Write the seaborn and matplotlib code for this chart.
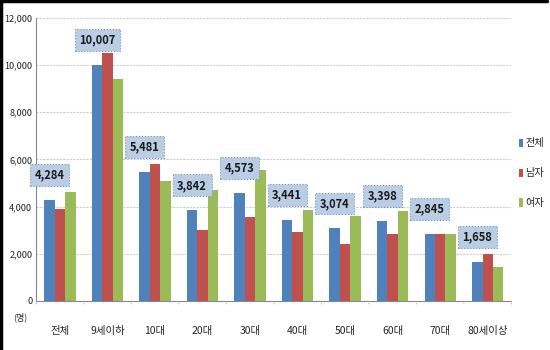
import matplotlib
matplotlib.use("Agg")
import matplotlib.pyplot as plt
import seaborn as sns
import pandas as pd
from matplotlib.lines import Line2D
from matplotlib.patches import Patch

categories = ["전체", "9세이하", "10대", "20대", "30대", "40대", "50대", "60대", "70대", "80세이상"]
series_names = ["전체", "남자", "여자"]
total = [4284, 10007, 5481, 3842, 4573, 3441, 3074, 3398, 2845, 1658]
male = [3910, 10500, 5810, 3000, 3570, 2940, 2400, 2850, 2845, 1990]
female = [4620, 9400, 5090, 4690, 5560, 3870, 3620, 3830, 2830, 1430]
colors = ["#4f81bd", "#c0504d", "#9bbb59"]

rows = []
for name, vals in zip(series_names, [total, male, female]):
    for c, v in zip(categories, vals):
        rows.append({"cat": c, "series": name, "value": v})
df = pd.DataFrame(rows)

sns.set_theme(style="white")
plt.rcParams["font.family"] = ["Noto Sans CJK KR", "DejaVu Sans"]

fig = plt.figure(figsize=(5.5, 3.5), dpi=100)
ax = fig.add_axes([0.066, 0.14, 0.864, 0.809])

sns.barplot(data=df, x="cat", y="value", hue="series", order=categories,
            hue_order=series_names, palette=colors, width=0.66, gap=0.0,
            saturation=1, ax=ax, legend=False, linewidth=0)

ax.set_ylim(0, 12000)
ax.set_xlim(-0.5, len(categories) - 0.5)
ax.set_yticks(range(0, 12001, 2000))
ax.set_yticklabels([f"{v:,}" for v in range(0, 12001, 2000)], fontsize=6.6)
ax.yaxis.grid(True, color="#d0d0d0", linewidth=0.8, linestyle=(0, (2, 1)))
ax.set_axisbelow(True)
ax.set_xlabel("")
ax.set_ylabel("")
ax.set_xticks(range(len(categories)))
ax.set_xticklabels(categories, fontsize=7.5)
ax.tick_params(axis="x", length=0, pad=18)
ax.tick_params(axis="y", length=0, pad=3)

# downward tick marks between categories
for b in [i - 0.5 for i in range(len(categories) + 1)]:
    ax.annotate("", xy=(b, 0), xytext=(b, -4), xycoords=("data", "data"),
                textcoords=("data", "offset points"),
                arrowprops=dict(arrowstyle="-", color="#888888", lw=0.8),
                annotation_clip=False)

for s in ["top", "right"]:
    ax.spines[s].set_visible(False)
ax.spines["left"].set_color("#888888")
ax.spines["bottom"].set_color("#888888")
ax.spines["left"].set_linewidth(0.8)
ax.spines["bottom"].set_linewidth(0.8)

# data labels over the 전체 bars
blue_bars = ax.containers[0]
for rect, v in zip(blue_bars, total):
    xc = rect.get_x() + rect.get_width() / 2
    ax.annotate(f"{v:,}", xy=(xc, v), xytext=(0, 18), textcoords="offset points",
                ha="center", va="center", fontsize=8, fontweight="bold",
                color="#1a1a1a",
                bbox=dict(boxstyle="square,pad=0.4", facecolor="#b9cde5",
                          edgecolor="#7f8fa6", linestyle=":", linewidth=0.8))

fig.text(0.036, 0.092, "(명)", fontsize=6.5, ha="center", va="center")

handles = [Patch(facecolor=c, edgecolor="none") for c in colors]
fig.legend(handles, series_names, loc="center left", bbox_to_anchor=(0.93, 0.505),
           frameon=False, fontsize=7.3, handlelength=0.4, handleheight=0.9,
           handletextpad=0.25, labelspacing=1.95, borderpad=0.2)

# outer frame (left and top)
fig.add_artist(Line2D([0.002, 0.002], [0, 1], color="black", lw=2.5, transform=fig.transFigure))
fig.add_artist(Line2D([0, 0.995], [0.997, 0.997], color="black", lw=2.5, transform=fig.transFigure))

fig.savefig("out.png", dpi=100, facecolor="white")
